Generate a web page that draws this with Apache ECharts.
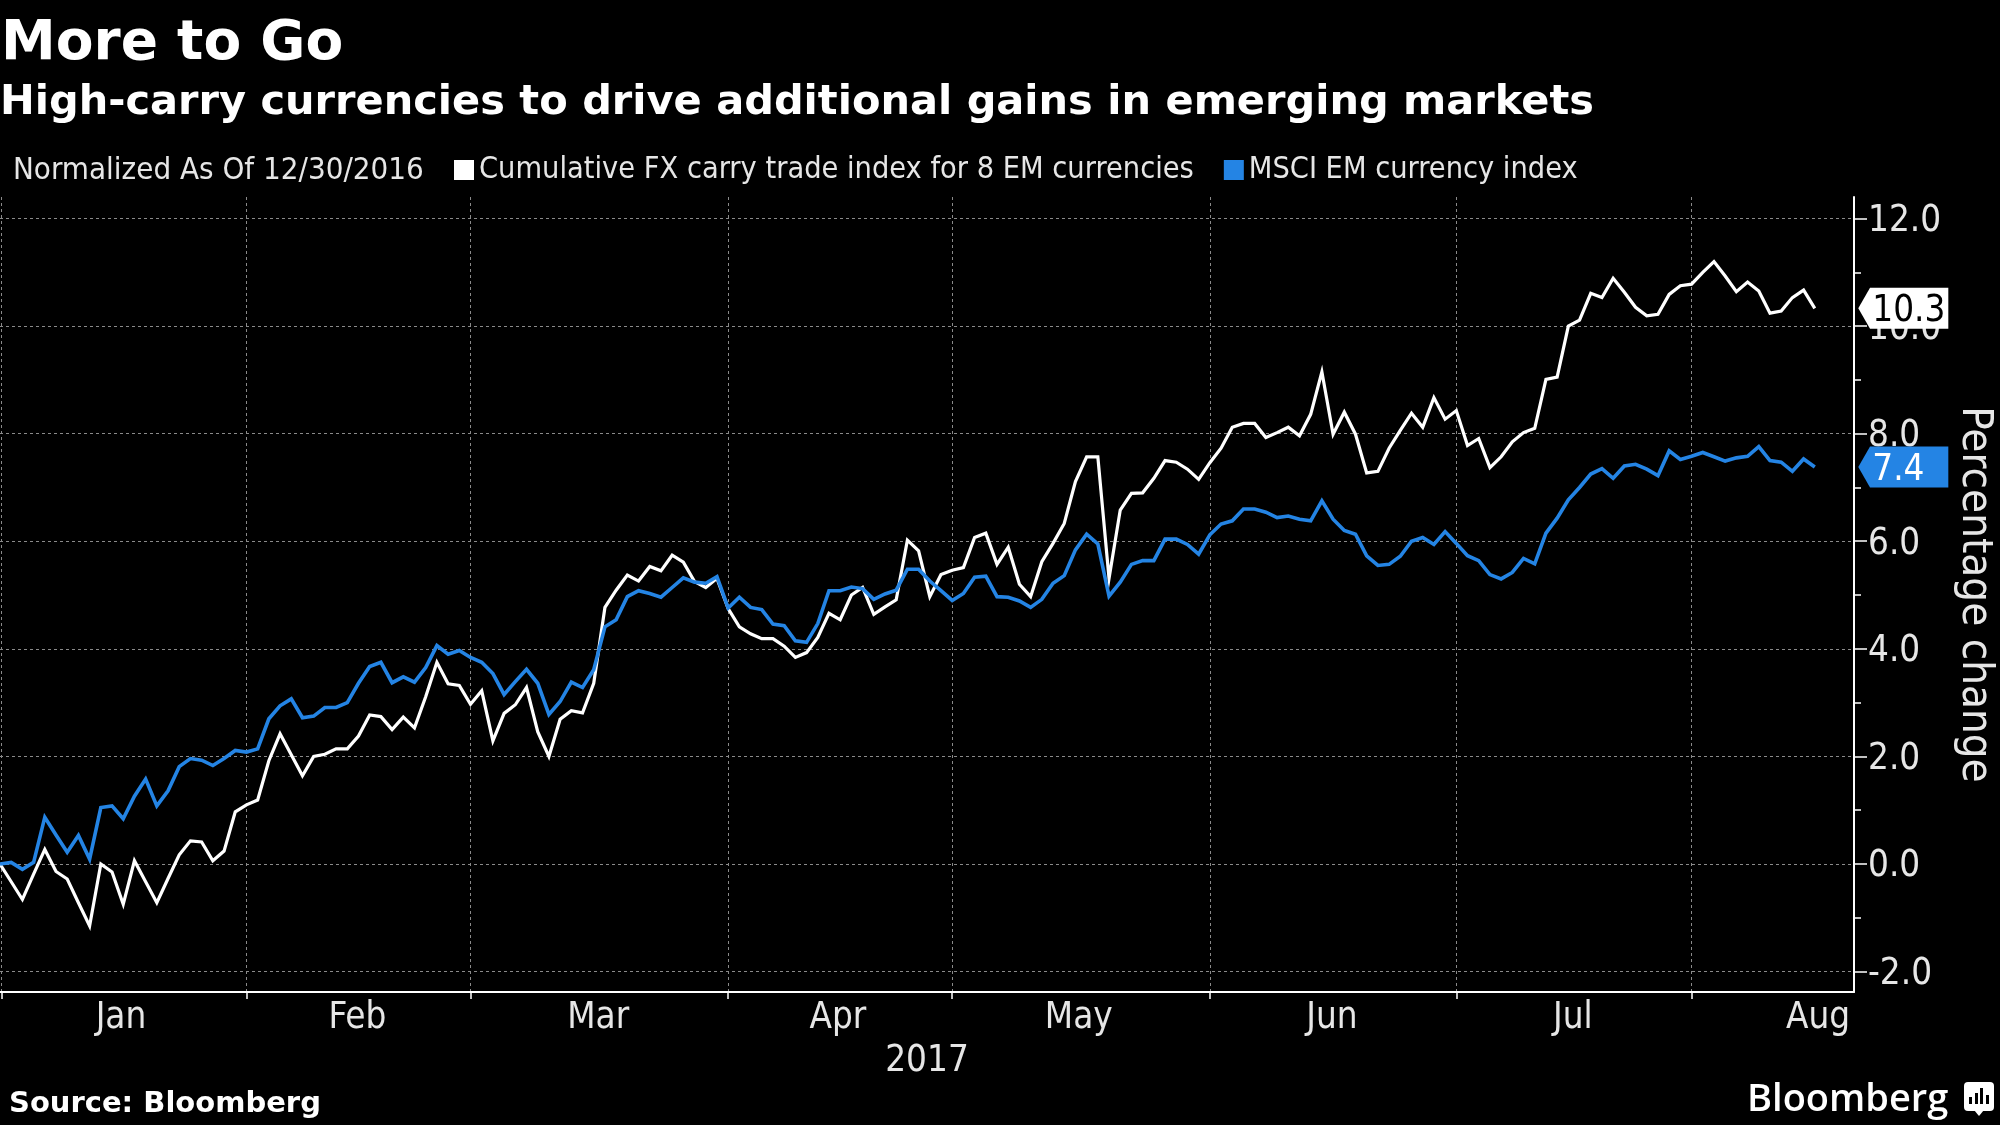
<!DOCTYPE html>
<html><head><meta charset="utf-8">
<style>html,body{margin:0;padding:0;background:#000}#c{width:2000px;height:1125px}</style>
<script src="https://cdn.jsdelivr.net/npm/echarts@6/dist/echarts.min.js"></script>
</head><body><div id="c"></div>
<script>
const monthNames = ['Jan','Feb','Mar','Apr','May','Jun','Jul','Aug'];
const monthLabelAt = [10.8,31.9,53.4,74.8,96.3,118.9,140.4,162.3];
const monthStartAt = [0.15,22,42,65,85,108,130,151];
const yMajor = [-2,0,2,4,6,8,10,12];
const yMinor = [-1,1,3,5,7,9,11];
const carryName = 'Cumulative FX carry trade index for 8 EM currencies';
const msciName = 'MSCI EM currency index';
const carry = [0,-.33,-.66,-.19,.27,-.14,-.28,-.72,-1.15,0,
-.15,-.75,.06,-.33,-.72,-.27,.17,.43,.41,.06,
.24,.97,1.1,1.19,1.92,2.42,2.03,1.64,2.0,2.04,
2.14,2.14,2.38,2.77,2.74,2.5,2.73,2.53,3.11,3.75,
3.35,3.32,2.97,3.22,2.29,2.8,2.96,3.28,2.46,2.0,
2.69,2.85,2.81,3.36,4.77,5.09,5.37,5.26,5.53,5.45,
5.74,5.61,5.25,5.14,5.31,4.75,4.41,4.28,4.19,4.19,
4.05,3.84,3.93,4.21,4.66,4.54,5.0,5.14,4.64,4.78,
4.91,6.02,5.82,4.97,5.38,5.46,5.51,6.07,6.15,5.57,
5.89,5.2,4.97,5.62,5.96,6.33,7.11,7.57,7.57,5.31,
6.58,6.89,6.9,7.17,7.5,7.47,7.34,7.15,7.46,7.73,
8.12,8.19,8.19,7.93,8.02,8.12,7.96,8.36,9.15,7.99,
8.4,7.99,7.27,7.3,7.73,8.06,8.38,8.12,8.67,8.27,
8.43,7.78,7.91,7.37,7.57,7.85,8.02,8.1,9.01,9.05,
10.0,10.11,10.61,10.53,10.89,10.63,10.35,10.19,10.22,10.59,
10.75,10.78,11.0,11.2,10.93,10.64,10.82,10.65,10.24,10.28,
10.53,10.67,10.33];
const msci = [0,.03,-.1,.03,.87,.54,.22,.53,.09,1.05,
1.08,.84,1.26,1.58,1.08,1.36,1.81,1.96,1.93,1.83,
1.96,2.11,2.08,2.14,2.7,2.94,3.07,2.72,2.75,2.91,
2.91,3.0,3.36,3.67,3.75,3.37,3.48,3.38,3.65,4.06,
3.9,3.97,3.84,3.75,3.54,3.15,3.39,3.62,3.36,2.78,
3.02,3.38,3.28,3.61,4.41,4.54,4.97,5.08,5.03,4.96,
5.14,5.32,5.24,5.22,5.34,4.76,4.96,4.77,4.73,4.46,
4.43,4.15,4.12,4.47,5.08,5.08,5.15,5.12,4.92,5.02,
5.09,5.48,5.48,5.26,5.08,4.9,5.03,5.33,5.35,4.97,
4.96,4.89,4.77,4.92,5.22,5.36,5.84,6.13,5.95,4.98,
5.24,5.57,5.64,5.64,6.04,6.04,5.94,5.76,6.12,6.32,
6.38,6.6,6.6,6.54,6.44,6.47,6.41,6.38,6.75,6.41,
6.2,6.13,5.73,5.55,5.57,5.72,6.0,6.07,5.94,6.18,
5.96,5.73,5.64,5.38,5.3,5.42,5.68,5.58,6.15,6.43,
6.77,7.0,7.25,7.35,7.17,7.4,7.43,7.34,7.22,7.68,
7.52,7.58,7.65,7.57,7.49,7.55,7.58,7.76,7.5,7.47,
7.3,7.53,7.38];

const WHITE='#ffffff', BLUE='#2484e4', TXT='#e6e6e6', COND='"DejaVu Sans Condensed","DejaVu Sans"', BOLD='"DejaVu Sans"';
const tagPath='path://M0 50 L30 0 L230 0 L230 100 L30 100 Z';
function tag(series, color, textColor){
  const last=series.length-1;
  return {silent:true,animation:false,symbol:tagPath,symbolSize:[90,41],symbolOffset:[88.5,0],
    itemStyle:{color},
    label:{show:true,position:'insideLeft',offset:[9,3],color:textColor,fontFamily:COND,fontSize:36.5,formatter:series[last].toFixed(1)},
    data:[{coord:[last,series[last]]}]};
}
const chart=echarts.init(document.getElementById('c'),null,{renderer:'canvas'});
chart.setOption({
  animation:false,backgroundColor:'#000',
  title:[
    {text:'More to Go',left:1,top:17,padding:0,textStyle:{color:WHITE,fontFamily:BOLD,fontWeight:'bold',fontSize:55}},
    {text:'High-carry currencies to drive additional gains in emerging markets',left:0,top:82,padding:0,textStyle:{color:WHITE,fontFamily:BOLD,fontWeight:'bold',fontSize:41.5}},
    {text:'Source: Bloomberg',left:9,top:1090,padding:0,textStyle:{color:WHITE,fontFamily:BOLD,fontWeight:'bold',fontSize:29}},
    {text:'Normalized As Of 12/30/2016',left:13,top:155,padding:0,textStyle:{color:TXT,fontFamily:COND,fontWeight:'normal',fontSize:31}}
  ],
  legend:{left:454,top:155,padding:0,itemWidth:20,itemHeight:20,itemGap:30,icon:'rect',
    textStyle:{color:TXT,fontFamily:COND,fontSize:30.4},
    data:[{name:carryName,itemStyle:{color:WHITE}},{name:msciName,itemStyle:{color:BLUE}}]},
  grid:{left:0,right:146,top:197,bottom:133,containLabel:false,outerBoundsMode:'none'},
  xAxis:{type:'value',min:0,max:165.5,name:'2017',nameLocation:'middle',nameGap:51,
    nameTextStyle:{color:TXT,fontFamily:COND,fontSize:36.5},
    axisLine:{show:true,onZero:false,lineStyle:{color:WHITE,width:2}},
    axisTick:{show:true,length:7,customValues:monthStartAt,lineStyle:{color:WHITE,width:1.5}},
    axisLabel:{show:true,customValues:monthLabelAt,margin:8,color:TXT,fontFamily:COND,fontSize:36.5,
      formatter:v=>{const i=monthLabelAt.indexOf(v);return i<0?'':monthNames[i];}},
    splitLine:{show:true,lineStyle:{color:'#8a8a8a',width:1,type:[3,3]}}},
  yAxis:[
    {type:'value',position:'right',min:-2.38,max:12.4,
     axisLine:{show:true,onZero:false,lineStyle:{color:WHITE,width:2}},
     axisTick:{show:true,length:13,customValues:yMajor,lineStyle:{color:WHITE,width:1.5}},
     axisLabel:{show:true,customValues:yMajor,margin:14,color:TXT,fontFamily:COND,fontSize:36.5,
       formatter:v=>'{a|'+v.toFixed(1)+'}',
       rich:{a:{color:TXT,fontFamily:COND,fontSize:36.5,padding:[6,0,0,0]}}},
     splitLine:{show:true,lineStyle:{color:'#8a8a8a',width:1,type:[3,3]}},
     name:'Percentage change',nameLocation:'middle',nameRotate:-90,nameGap:95,
     nameTextStyle:{color:TXT,fontFamily:COND,fontSize:43.5}},
    {type:'value',position:'left',offset:-1854,min:-2.38,max:12.4,
     axisLine:{show:false,onZero:false},axisTick:{show:true,inside:true,length:7,customValues:yMinor,lineStyle:{color:WHITE,width:1.5}},
     axisLabel:{show:false},splitLine:{show:false}}
  ],
  series:[
    {name:carryName,type:'line',showSymbol:false,symbol:'none',clip:false,lineStyle:{color:WHITE,width:3.2,join:'miter'},itemStyle:{color:WHITE},
     data:carry.map((v,i)=>[i,v]),markPoint:tag(carry,WHITE,'#000')},
    {name:msciName,type:'line',showSymbol:false,symbol:'none',clip:false,lineStyle:{color:BLUE,width:3.6,join:'miter'},itemStyle:{color:BLUE},
     data:msci.map((v,i)=>[i,v]),markPoint:tag(msci,BLUE,WHITE)}
  ],
  graphic:[
    {type:'text',left:1747,top:1081,style:{text:'Bloomberg',fill:WHITE,font:'600 38px "Open Sans"'}},
    {type:'group',left:1964,top:1082,children:[
      {type:'rect',shape:{x:0,y:0,width:30,height:29,r:4},style:{fill:WHITE}},
      {type:'polygon',shape:{points:[[10,28],[20,28],[15,34]]},style:{fill:WHITE}},
      {type:'rect',shape:{x:5,y:15,width:3,height:7},style:{fill:'#000'}},
      {type:'rect',shape:{x:11,y:11,width:3,height:11},style:{fill:'#000'}},
      {type:'rect',shape:{x:16,y:6,width:3,height:16},style:{fill:'#000'}},
      {type:'rect',shape:{x:22,y:13,width:3,height:9},style:{fill:'#000'}}
    ]}
  ]
});
</script></body></html>
